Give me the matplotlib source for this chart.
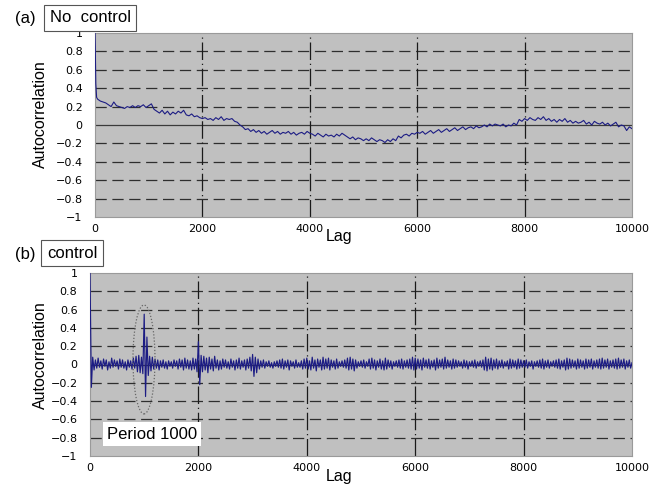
import numpy as np
import matplotlib
matplotlib.use("Agg")
import matplotlib.pyplot as plt
from matplotlib.patches import Ellipse

plt.rcParams['font.family'] = ['Liberation Sans', 'DejaVu Sans']

# ---------------- data ----------------
yticks = [-1, -0.8, -0.6, -0.4, -0.2, 0, 0.2, 0.4, 0.6, 0.8, 1]
ytick_labels = ["\u22121", "\u22120.8", "\u22120.6", "\u22120.4", "\u22120.2", "0",
                "0.2", "0.4", "0.6", "0.8", "1"]
xticks = [0, 2000, 4000, 6000, 8000, 10000]
xtick_labels = ["0", "2000", "4000", "6000", "8000", "10000"]

# (a) No control: first lags, then lags 50..10000 step 50
lags_a_head = [0, 5, 15, 30]
acf_a_head = [1.0, 0.85, 0.45, 0.30]
lags_a_body = np.arange(50, 10001, 50)
acf_a_body = [
    0.28, 0.26, 0.25, 0.24, 0.22, 0.20, 0.25, 0.21, 0.20, 0.19,
    0.18, 0.20, 0.19, 0.21, 0.19, 0.21, 0.20, 0.22, 0.19, 0.21,
    0.23, 0.17, 0.15, 0.13, 0.16, 0.12, 0.15, 0.11, 0.14, 0.12,
    0.15, 0.13, 0.16, 0.11, 0.10, 0.12, 0.09, 0.10, 0.08, 0.07,
    0.08, 0.06, 0.07, 0.05, 0.08, 0.06, 0.09, 0.05, 0.07, 0.06,
    0.07, 0.04, 0.03, 0.00, -0.02, -0.05, -0.04, -0.07, -0.05, -0.08,
    -0.06, -0.09, -0.07, -0.10, -0.08, -0.06, -0.09, -0.07, -0.10, -0.08,
    -0.09, -0.07, -0.10, -0.08, -0.11, -0.09, -0.08, -0.10, -0.07, -0.09,
    -0.10, -0.12, -0.09, -0.11, -0.13, -0.10, -0.12, -0.11, -0.13, -0.10,
    -0.12, -0.09, -0.11, -0.13, -0.15, -0.13, -0.16, -0.14, -0.15, -0.17,
    -0.15, -0.17, -0.14, -0.16, -0.18, -0.16, -0.17, -0.19, -0.16, -0.18,
    -0.15, -0.17, -0.12, -0.14, -0.11, -0.10, -0.12, -0.09, -0.10, -0.08,
    -0.09, -0.07, -0.10, -0.08, -0.06, -0.09, -0.07, -0.05, -0.08, -0.06,
    -0.04, -0.07, -0.05, -0.03, -0.06, -0.04, -0.02, -0.05, -0.03, -0.02,
    -0.04, -0.01, -0.03, -0.02, 0.00, -0.02, 0.01, -0.01, 0.01, 0.00,
    -0.01, 0.01, -0.02, 0.00, -0.01, 0.02, 0.00, 0.06, 0.04, 0.07,
    0.05, 0.08, 0.06, 0.05, 0.08, 0.06, 0.09, 0.05, 0.07, 0.04,
    0.06, 0.03, 0.06, 0.04, 0.07, 0.03, 0.05, 0.02, 0.04, 0.02,
    0.03, 0.05, 0.01, 0.03, 0.00, 0.04, 0.02, 0.01, 0.03, 0.00,
    0.02, -0.01, 0.01, 0.03, -0.02, 0.00, -0.01, -0.06, -0.02, -0.04,
]

# (b) control: lags 0..10000 step 25
lags_b = np.arange(0, 10001, 25)
acf_b = [
    1.0, -0.25, 0.08, -0.06, 0.05, -0.04, 0.07, -0.03, 0.04, -0.05, 0.06, -0.02, 0.05, -0.06, 0.03, -0.04, 0.07, -0.03, 0.05, -0.02,
    0.04, -0.05, 0.06, -0.03, 0.05, -0.04, 0.03, -0.06, 0.05, -0.03, 0.04, -0.05, 0.07, -0.04, 0.09, -0.08, 0.10, -0.09, 0.08, -0.10,
    0.55, -0.35, 0.30, -0.12, 0.09, -0.07, 0.08, -0.05, 0.06, -0.04, 0.05, -0.06, 0.04, -0.03, 0.05, -0.04, 0.03, -0.05, 0.04, -0.02,
    0.03, -0.04, 0.05, -0.02, 0.04, -0.05, 0.06, -0.03, 0.05, -0.06, 0.07, -0.04, 0.05, -0.05, 0.04, -0.06, 0.07, -0.05, 0.06, -0.08,
    0.25, -0.22, 0.10, -0.08, 0.09, -0.06, 0.07, -0.09, 0.08, -0.05, 0.06, -0.07, 0.09, -0.04, 0.05, -0.06, 0.04, -0.05, 0.06, -0.03,
    0.05, -0.04, 0.03, -0.05, 0.06, -0.03, 0.04, -0.06, 0.05, -0.04, 0.07, -0.05, 0.04, -0.03, 0.05, -0.06, 0.06, -0.04, 0.08, -0.07,
    0.11, -0.13, 0.08, -0.09, 0.06, -0.05, 0.04, -0.03, 0.05, -0.04, 0.03, -0.02, 0.04, -0.03, 0.02, -0.04, 0.03, -0.02, 0.04, -0.03,
    0.05, -0.04, 0.06, -0.05, 0.04, -0.03, 0.05, -0.06, 0.04, -0.02, 0.03, -0.04, 0.05, -0.03, 0.02, -0.03, 0.04, -0.05, 0.06, -0.04,
    0.07, -0.05, 0.04, -0.06, 0.08, -0.04, 0.05, -0.07, 0.06, -0.03, 0.05, -0.06, 0.08, -0.05, 0.06, -0.04, 0.07, -0.06, 0.05, -0.03,
    0.04, -0.05, 0.06, -0.04, 0.03, -0.02, 0.04, -0.03, 0.05, -0.04, 0.07, -0.06, 0.08, -0.05, 0.06, -0.07, 0.05, -0.04, 0.03, -0.02,
    0.04, -0.03, 0.05, -0.04, 0.03, -0.02, 0.06, -0.05, 0.07, -0.04, 0.05, -0.06, 0.04, -0.03, 0.06, -0.05, 0.04, -0.06, 0.07, -0.05,
    0.05, -0.03, 0.04, -0.05, 0.03, -0.02, 0.04, -0.03, 0.05, -0.04, 0.06, -0.05, 0.04, -0.03, 0.05, -0.04, 0.06, -0.05, 0.08, -0.06,
    0.07, -0.05, 0.06, -0.04, 0.05, -0.06, 0.07, -0.03, 0.05, -0.04, 0.06, -0.05, 0.04, -0.03, 0.05, -0.06, 0.07, -0.04, 0.05, -0.03,
    0.06, -0.05, 0.08, -0.04, 0.05, -0.03, 0.04, -0.05, 0.06, -0.04, 0.05, -0.03, 0.04, -0.02, 0.03, -0.04, 0.05, -0.03, 0.04, -0.05,
    0.03, -0.02, 0.04, -0.03, 0.05, -0.04, 0.03, -0.02, 0.04, -0.03, 0.05, -0.06, 0.08, -0.07, 0.06, -0.05, 0.07, -0.06, 0.05, -0.04,
    0.06, -0.05, 0.04, -0.03, 0.05, -0.04, 0.03, -0.02, 0.04, -0.05, 0.06, -0.04, 0.05, -0.03, 0.04, -0.05, 0.06, -0.04, 0.05, -0.03,
    0.04, -0.03, 0.05, -0.04, 0.03, -0.02, 0.04, -0.05, 0.03, -0.02, 0.04, -0.03, 0.05, -0.04, 0.06, -0.05, 0.04, -0.03, 0.05, -0.04,
    0.03, -0.02, 0.04, -0.03, 0.05, -0.04, 0.06, -0.05, 0.04, -0.03, 0.05, -0.06, 0.07, -0.05, 0.06, -0.04, 0.05, -0.03, 0.04, -0.05,
    0.06, -0.04, 0.05, -0.03, 0.04, -0.05, 0.06, -0.04, 0.05, -0.03, 0.06, -0.05, 0.04, -0.03, 0.05, -0.04, 0.06, -0.05, 0.07, -0.04,
    0.05, -0.03, 0.06, -0.05, 0.04, -0.03, 0.05, -0.04, 0.06, -0.05, 0.07, -0.04, 0.05, -0.03, 0.06, -0.05, 0.04, -0.03, 0.05, -0.04,
    0.02,
]

title_a = "No  control"
title_b = "control"
annot_b = "Period 1000"

# ---------------- figure ----------------
W, H = 665, 488
fig = plt.figure(figsize=(W / 100, H / 100), dpi=100)
fig.patch.set_facecolor("white")

LINE = "#1c1c84"
BG = "#c0c0c0"


def box(x0, y0, x1, y1):
    # pixel box (top-left origin) -> figure fraction rect
    return [x0 / W, 1 - y1 / H, (x1 - x0) / W, (y1 - y0) / H]


def style(ax):
    ax.set_facecolor(BG)
    ax.set_xlim(0, 10000)
    ax.set_ylim(-1, 1)
    for y in yticks:
        if y in (-1, 1):
            continue
        if y == 0:
            ax.axhline(0, color="#3a3a3a", lw=0.9, zorder=1)
        else:
            ax.axhline(y, color="#2e2e2e", lw=0.9, ls=(0, (9, 4.5)), zorder=1)
    for x in xticks[1:-1]:
        ax.axvline(x, color="#1a1a1a", lw=0.9, ls=(0, (14, 3, 1, 3)), zorder=1)
    ax.set_yticks(yticks)
    ax.set_yticklabels(ytick_labels, fontsize=8, family="DejaVu Sans")
    ax.set_xticks(xticks)
    ax.set_xticklabels(xtick_labels, fontsize=8, family="DejaVu Sans")
    ax.tick_params(axis="x", length=0, pad=5)
    ax.tick_params(axis="y", length=0, pad=9)
    for s in ax.spines.values():
        s.set_color("#9a9a9a")
        s.set_linewidth(0.8)


# (a)
ax1 = fig.add_axes(box(95, 33, 632, 217))
style(ax1)
ax1.plot(list(lags_a_head) + list(lags_a_body), acf_a_head + acf_a_body,
         color=LINE, lw=0.8, zorder=3)

# (b)
ax2 = fig.add_axes(box(90, 273, 632, 456))
style(ax2)
ax2.plot(lags_b, acf_b, color=LINE, lw=0.85, zorder=3)
ax2.add_patch(Ellipse((996, 0.055), 406, 1.19, fill=False, ec="#666666",
                      lw=0.9, ls=(0, (1, 1.5)), zorder=4))
ax2.text(1144, -0.76, annot_b, fontsize=12, ha="center", va="center",
         zorder=5, bbox=dict(boxstyle="square,pad=0.25", fc="white", ec="none"))

# axis labels
for yc in (114, 355):
    fig.text(40 / W, 1 - yc / H, "Autocorrelation", rotation=90, fontsize=11.5,
             ha="center", va="center")
for yc in (237, 476):
    fig.text(339 / W, 1 - yc / H, "Lag", fontsize=11.5, ha="center", va="center")

# panel titles
fig.text(25 / W, 1 - 19 / H, "(a)", fontsize=12, ha="center", va="center")
fig.text(90 / W, 1 - 18 / H, title_a, fontsize=12, ha="center", va="center",
         bbox=dict(boxstyle="square,pad=0.33", fc="white", ec="#555555", lw=0.8))
fig.text(25 / W, 1 - 254 / H, "(b)", fontsize=12, ha="center", va="center")
fig.text(72 / W, 1 - 253 / H, title_b, fontsize=12, ha="center", va="center",
         bbox=dict(boxstyle="square,pad=0.33", fc="white", ec="#555555", lw=0.8))

fig.savefig("out.png", dpi=100)
